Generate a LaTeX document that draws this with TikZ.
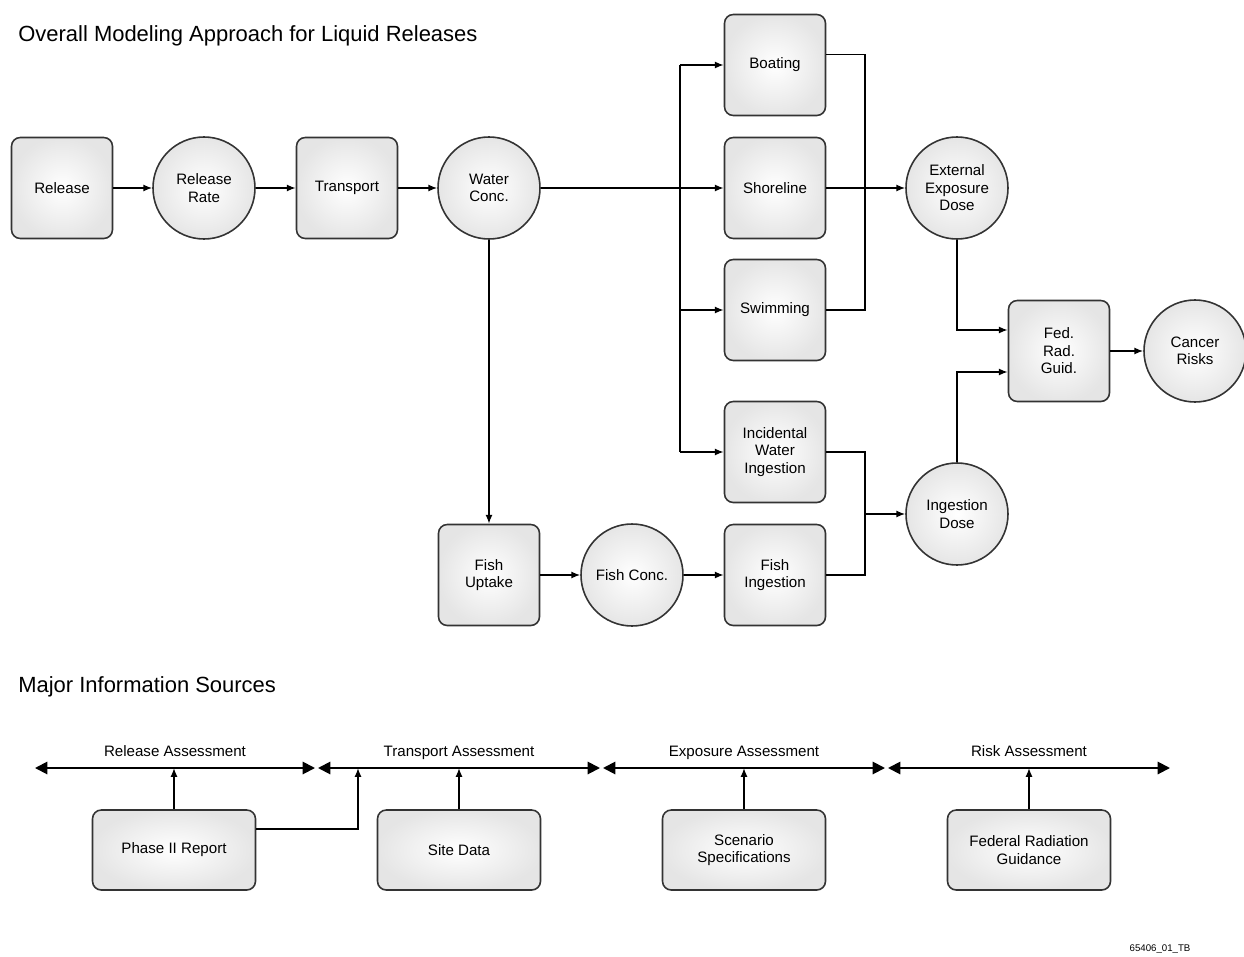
\documentclass[tikz,border=0pt]{standalone}
\usepackage{fontspec}
\setmainfont{Liberation Sans}
\usetikzlibrary{positioning, arrows.meta}

\begin{document}
\begin{tikzpicture}[
    bnode/.style={draw=black!80, line width=0.9pt, rounded corners=5pt, minimum width=2.02cm, minimum height=2.02cm, inner color=white, outer color=black!10, align=center, font=\fontsize{8.6}{10}\selectfont},
    cnode/.style={draw=black!80, line width=0.9pt, circle, minimum size=2.04cm, inner sep=0pt, inner color=white, outer color=black!10, align=center, font=\fontsize{8.6}{10}\selectfont},
    snode/.style={bnode, minimum width=3.26cm, minimum height=1.6cm},
    flow/.style={line width=0.9pt, -{Latex[length=5pt,width=4pt]}},
    wire/.style={line width=0.9pt},
    span/.style={line width=1.1pt, {Triangle[length=7pt,width=7pt]}-{Triangle[length=7pt,width=7pt]}},
    spanlabel/.style={midway, above=1pt, text height=1.6ex, text depth=0.3ex, font=\fontsize{8.6}{10}\selectfont},
    heading/.style={anchor=west, inner sep=0pt, font=\fontsize{12.5}{14}\selectfont}
]
\useasboundingbox (0,0) rectangle (24.88,-19.14);
\node[heading] (title) at (0.36,-0.72) {Overall Modeling Approach for Liquid Releases};

\node[bnode] (release) at (1.24,-3.76) {Release};
\node[cnode] (rrate) at (4.08,-3.76) {Release\\Rate};
\node[bnode] (transport) at (6.94,-3.76) {Transport};
\node[cnode] (wconc) at (9.78,-3.76) {Water\\Conc.};
\node[bnode] (boating) at (15.5,-1.30) {Boating};
\node[bnode] (shore) at (15.5,-3.76) {Shoreline};
\node[bnode] (swim) at (15.5,-6.20) {Swimming};
\node[bnode] (incid) at (15.5,-9.04) {Incidental\\Water\\Ingestion};
\node[bnode] (fishing) at (15.5,-11.5) {Fish\\Ingestion};
\node[bnode] (fuptake) at (9.78,-11.5) {Fish\\Uptake};
\node[cnode] (fconc) at (12.64,-11.5) {Fish Conc.};
\node[cnode] (edose) at (19.14,-3.76) {External\\Exposure\\Dose};
\node[cnode] (idose) at (19.14,-10.28) {Ingestion\\Dose};
\node[bnode] (fed) at (21.18,-7.02) {Fed.\\Rad.\\Guid.};
\node[cnode] (risk) at (23.9,-7.02) {Cancer\\Risks};

\coordinate (trunk) at (13.6,0);
\coordinate (ebus) at (17.3,0);
\coordinate (ibus) at (17.3,0);

\draw[flow] (release) -- (rrate);
\draw[flow] (rrate) -- (transport);
\draw[flow] (transport) -- (wconc);
\draw[flow] (wconc) -- (shore);
\draw[wire] (trunk |- boating) -- (trunk |- incid);
\draw[flow] (trunk |- boating) -- (boating);
\draw[flow] (trunk |- swim) -- (swim);
\draw[flow] (trunk |- incid) -- (incid);
\draw[flow] (wconc) -- (fuptake);
\draw[flow] (fuptake) -- (fconc);
\draw[flow] (fconc) -- (fishing);

\draw[wire] ([yshift=6pt]boating.east) -| (ebus |- swim) -- (swim.east);
\draw[flow] (shore) -- (edose);
\draw[wire] (incid.east) -| (ibus |- fishing) -- (fishing.east);
\draw[flow] (ibus |- idose) -- (idose);
\draw[flow] (edose.south) |- ([yshift=0.42cm]fed.west);
\draw[flow] (idose.north) |- ([yshift=-0.42cm]fed.west);
\draw[flow] (fed) -- (risk);

\node[heading] (sources) at (0.36,-13.74) {Major Information Sources};

\coordinate (ra-l) at (0.7,-15.36);
\coordinate (ra-r) at (6.3,-15.36);
\coordinate (ta-l) at (6.36,-15.36);
\coordinate (ta-r) at (12.0,-15.36);
\coordinate (ea-l) at (12.06,-15.36);
\coordinate (ea-r) at (17.7,-15.36);
\coordinate (ka-l) at (17.76,-15.36);
\coordinate (ka-r) at (23.4,-15.36);
\coordinate (pr-up) at (7.16,-15.36);

\draw[span] (ra-l) -- (ra-r) node[spanlabel] (ra) {Release Assessment};
\draw[span] (ta-l) -- (ta-r) node[spanlabel] (ta) {Transport Assessment};
\draw[span] (ea-l) -- (ea-r) node[spanlabel] (ea) {Exposure Assessment};
\draw[span] (ka-l) -- (ka-r) node[spanlabel] (ka) {Risk Assessment};

\node[snode] (phase) at (3.48,-17.0) {Phase II Report};
\node[snode] (site) at (9.18,-17.0) {Site Data};
\node[snode] (scen) at (14.88,-17.0) {Scenario\\Specifications};
\node[snode] (frg) at (20.58,-17.0) {Federal Radiation\\Guidance};

\draw[flow] (phase.north) -- (phase.north |- ra-l);
\draw[flow] ([yshift=0.42cm]phase.east) -| (pr-up);
\draw[flow] (site.north) -- (site.north |- ta-l);
\draw[flow] (scen.north) -- (scen.north |- ea-l);
\draw[flow] (frg.north) -- (frg.north |- ka-l);

\node[font=\fontsize{5.5}{6}\selectfont] (tag) at (23.2,-18.98) {65406\_01\_TB};
\end{tikzpicture}
\end{document}
